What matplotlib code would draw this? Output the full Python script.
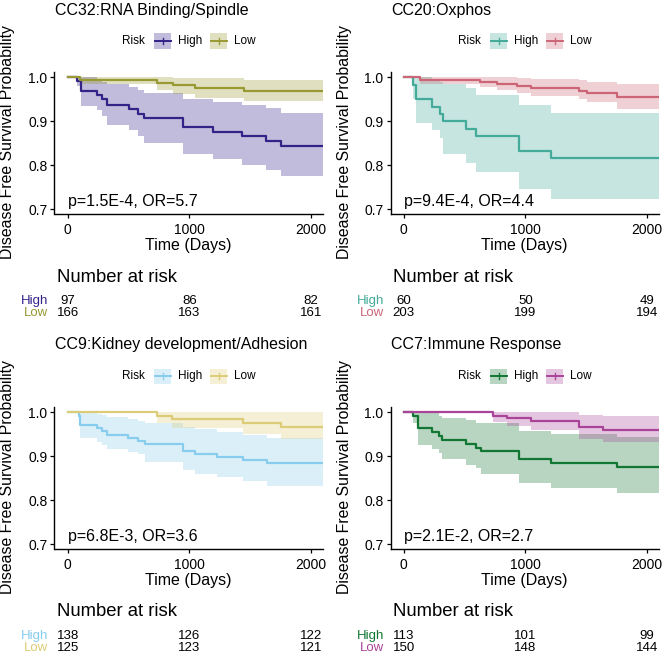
import matplotlib
matplotlib.use("Agg")
import matplotlib.pyplot as plt
from matplotlib.patches import Rectangle
from matplotlib.lines import Line2D
import matplotlib.transforms as mtransforms

plt.rcParams["font.family"] = ["Liberation Sans", "DejaVu Sans"]

# titles, stats and colours of the four panels
titles = ["CC32:RNA Binding/Spindle", "CC20:Oxphos",
          "CC9:Kidney development/Adhesion", "CC7:Immune Response"]
stats = ["p=1.5E-4, OR=5.7", "p=9.4E-4, OR=4.4",
         "p=6.8E-3, OR=3.6", "p=2.1E-2, OR=2.7"]
high_colors = ["#332288", "#44AA99", "#88CCEE", "#117733"]
low_colors = ["#999933", "#CC6677", "#DDCC77", "#AA4499"]

# High risk group: step times, survival and confidence band
high_times = [
    [0, 75, 105, 240, 280, 318, 505, 580, 630, 950, 1195, 1430, 1630, 1750],
    [0, 74, 102, 233, 297, 321, 508, 596, 948, 1209],
    [0, 93, 100, 236, 277, 318, 497, 580, 634, 949, 1045, 1224, 1438, 1640],
    [0, 74, 115, 233, 288, 316, 508, 596, 632, 948, 1209, 1753],
]
high_surv = [
    [1, 0.993, 0.969, 0.960, 0.950, 0.938, 0.928, 0.918, 0.908, 0.887, 0.877, 0.866, 0.856, 0.845],
    [1, 0.983, 0.950, 0.933, 0.917, 0.900, 0.883, 0.867, 0.833, 0.817],
    [1, 0.993, 0.971, 0.964, 0.957, 0.949, 0.942, 0.935, 0.928, 0.913, 0.906, 0.899, 0.891, 0.884],
    [1, 0.991, 0.965, 0.956, 0.947, 0.938, 0.929, 0.920, 0.912, 0.894, 0.885, 0.876],
]
high_lower = [
    [1, 0.980, 0.935, 0.925, 0.912, 0.893, 0.880, 0.866, 0.851, 0.826, 0.814, 0.800, 0.789, 0.777],
    [1, 0.950, 0.897, 0.880, 0.862, 0.826, 0.805, 0.784, 0.746, 0.724],
    [1, 0.975, 0.941, 0.932, 0.927, 0.918, 0.910, 0.905, 0.888, 0.869, 0.861, 0.854, 0.844, 0.833],
    [1, 0.975, 0.926, 0.918, 0.908, 0.895, 0.880, 0.873, 0.861, 0.839, 0.829, 0.818],
]
high_upper = [
    [1, 1, 1, 0.997, 0.990, 0.985, 0.978, 0.972, 0.965, 0.950, 0.945, 0.938, 0.930, 0.920],
    [1, 1, 1, 0.995, 0.990, 0.985, 0.975, 0.960, 0.937, 0.920],
    [1, 1, 0.999, 0.997, 0.994, 0.990, 0.985, 0.980, 0.975, 0.968, 0.962, 0.955, 0.948, 0.941],
    [1, 1, 1, 0.998, 0.993, 0.988, 0.982, 0.977, 0.975, 0.958, 0.950, 0.945],
]

# Low risk group
low_times = [
    [0, 100, 730, 865, 1045, 1450],
    [0, 130, 625, 770, 930, 1050, 1440, 1505, 1750],
    [0, 730, 853, 1443, 1750],
    [0, 730, 850, 1045, 1440, 1635],
]
low_surv = [
    [1, 0.994, 0.988, 0.982, 0.976, 0.970],
    [1, 0.995, 0.990, 0.985, 0.980, 0.975, 0.970, 0.965, 0.956],
    [1, 0.992, 0.984, 0.976, 0.968],
    [1, 0.993, 0.987, 0.980, 0.967, 0.960],
]
low_lower = [
    [1, 0.984, 0.971, 0.962, 0.953, 0.946],
    [1, 0.985, 0.978, 0.971, 0.965, 0.958, 0.952, 0.945, 0.928],
    [1, 0.975, 0.964, 0.952, 0.939],
    [1, 0.979, 0.970, 0.960, 0.940, 0.932],
]
low_upper = [
    [1, 1, 1, 0.999, 0.998, 0.995],
    [1, 1, 1, 1, 0.999, 0.996, 0.995, 0.990, 0.985],
    [1, 1, 1, 1, 1],
    [1, 1, 1, 1, 0.994, 0.992],
]

# number at risk table
risk_times = [0, 1000, 2000]
risk_high = [[97, 86, 82], [60, 50, 49], [138, 126, 122], [113, 101, 99]]
risk_low = [[166, 163, 161], [203, 199, 194], [125, 123, 121], [150, 148, 144]]

W, H = 662, 655
X_END = 2100


def fx(x):
    return x / W


def fy(y):
    return 1 - y / H


def draw_group(ax, t, s, lo, hi, color):
    tt = list(t) + [X_END]
    ss = list(s) + [s[-1]]
    ll = list(lo) + [lo[-1]]
    hh = list(hi) + [hi[-1]]
    ax.fill_between(tt, ll, hh, step="post", color=color, alpha=0.3, lw=0)
    ax.step(tt, ss, where="post", color=color, lw=1.6)


fig = plt.figure(figsize=(W / 100, H / 100), dpi=100)

for i in range(4):
    ox = (i % 2) * 336
    oy = (i // 2) * 335
    ax = fig.add_axes([fx(54.5 + ox), fy(214.3 + oy), 268 / W, 142.6 / H])

    draw_group(ax, high_times[i], high_surv[i], high_lower[i], high_upper[i], high_colors[i])
    draw_group(ax, low_times[i], low_surv[i], low_lower[i], low_upper[i], low_colors[i])

    ax.set_xlim(-110, 2095)
    ax.set_ylim(0.689, 1.013)
    ax.set_xticks([0, 1000, 2000])
    ax.set_yticks([0.7, 0.8, 0.9, 1.0])
    ax.set_yticklabels(["0.7", "0.8", "0.9", "1.0"])
    for side in ["top", "right"]:
        ax.spines[side].set_visible(False)
    for side in ["left", "bottom"]:
        ax.spines[side].set_linewidth(1.0)
    ax.tick_params(length=3, width=0.9, labelsize=10, colors="black", pad=2)
    ax.tick_params(axis="x", pad=3)

    ax.text(0, 0.717, stats[i], fontsize=11.5, va="center", ha="left")

    # titles and axis labels
    fig.text(fx(55 + ox), fy(10 + oy), titles[i], fontsize=11.5, va="center", ha="left")
    fig.text(fx(8 + ox), fy(142 + oy), "Disease Free Survival Probability",
             fontsize=11.4, rotation=90, va="center", ha="center")
    fig.text(fx(188 + ox), fy(245 + oy), "Time (Days)", fontsize=11.5, va="center", ha="center")

    # legend
    fig.text(fx(122 + ox), fy(41 + oy), "Risk", fontsize=8.5, va="center", ha="left")
    for k, (lab, col) in enumerate([("High", high_colors[i]), ("Low", low_colors[i])]):
        bx = 154 + ox + k * 56
        fig.patches.append(Rectangle((fx(bx), fy(48.5 + oy)), 17 / W, 15 / H,
                                     transform=fig.transFigure, color=col, alpha=0.3, lw=0))
        fig.lines.append(Line2D([fx(bx + 0.5), fx(bx + 16.5)], [fy(41 + oy)] * 2,
                                transform=fig.transFigure, color=col, lw=1.4))
        fig.lines.append(Line2D([fx(bx + 8.5)] * 2, [fy(38 + oy), fy(44 + oy)],
                                transform=fig.transFigure, color=col, lw=1.0))
        fig.text(fx(bx + 24), fy(41 + oy), lab, fontsize=8.5, va="center", ha="left")

    # number at risk
    fig.text(fx(57 + ox), fy(277 + oy), "Number at risk", fontsize=13.3, va="center", ha="left")
    trans = mtransforms.blended_transform_factory(ax.transData, fig.transFigure)
    rows = [("High", high_colors[i], risk_high[i], 301), ("Low", low_colors[i], risk_low[i], 313)]
    for lab, col, vals, yy in rows:
        fig.text(fx(48.5 + ox), fy(yy + oy), lab, fontsize=9.5, color=col, va="center", ha="right")
        for t, v in zip(risk_times, vals):
            ax.text(t, fy(yy + oy), str(v), transform=trans, fontsize=9.5,
                    va="center", ha="center", clip_on=False)

fig.savefig("out.png", dpi=100)
